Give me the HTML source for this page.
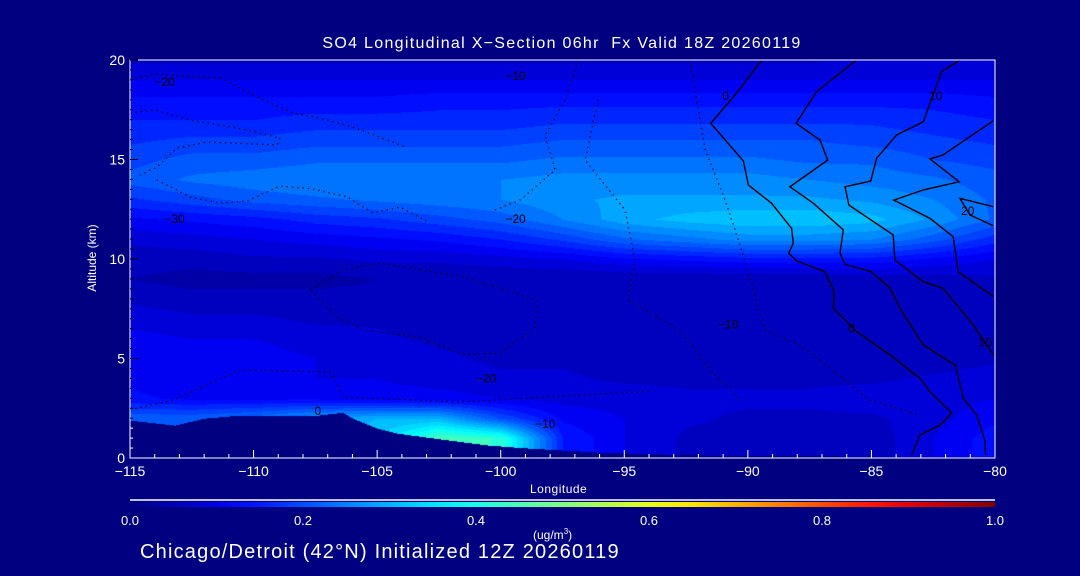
<!DOCTYPE html>
<html><head><meta charset="utf-8">
<style>
html,body{margin:0;padding:0;background:#000080;}
#root{position:relative;width:1080px;height:576px;background:#000080;overflow:hidden;font-family:"Liberation Sans",sans-serif;color:#fff;}
.t{position:absolute;white-space:nowrap;color:#fff;}
canvas{position:absolute;left:130px;top:60px;}
svg{position:absolute;left:0;top:0;}
</style></head>
<body>
<div id="root">
<div class="t" style="left:0;width:1124px;text-align:center;top:35px;font-size:16px;letter-spacing:1.3px;">SO4 Longitudinal X&#8722;Section 06hr&nbsp; Fx Valid 18Z 20260119</div>
<canvas id="field" width="865" height="398"></canvas>
<svg id="ov" width="1080" height="576"></svg>
<div class="t" style="left:92px;top:258px;font-size:12px;transform:translate(-50%,-50%) rotate(-90deg);">Altitude (km)</div>
<div class="t" style="left:530px;top:482px;font-size:12px;letter-spacing:0.5px;">Longitude</div>
<div class="t" style="left:533px;top:527px;font-size:12px;">(ug/m<sup style="font-size:8px">3</sup>)</div>
<div class="t" style="left:140px;top:541px;font-size:20px;letter-spacing:1.2px;">Chicago/Detroit (42°N) Initialized 12Z 20260119</div>
</div>
<script>
const lons=[-115,-112.5,-110,-107.5,-105,-102.5,-100,-97.5,-95,-92.5,-90,-87.5,-85,-82.5,-80];
const alts=[0,1,2,3,4,5,6,7,8,9,10,11,12,13,14,15,16,17,18,19,20];
const conc=[
[.20,.20,.22,.26,.32,.45,.42,.15,.10,.07,.06,.06,.06,.10,.14],
[.20,.20,.22,.26,.32,.45,.42,.15,.10,.07,.06,.06,.06,.10,.14],
[.22,.22,.24,.28,.30,.30,.20,.12,.10,.08,.07,.07,.07,.09,.12],
[.13,.12,.12,.12,.11,.11,.10,.09,.09,.08,.08,.08,.09,.09,.10],
[.12,.11,.11,.10,.10,.09,.08,.08,.07,.07,.07,.07,.07,.08,.09],
[.12,.11,.11,.10,.09,.08,.07,.07,.06,.06,.06,.06,.06,.06,.07],
[.11,.10,.10,.09,.08,.07,.07,.06,.06,.06,.06,.06,.06,.06,.07],
[.09,.08,.08,.07,.07,.06,.06,.06,.06,.06,.06,.06,.06,.06,.07],
[.07,.06,.06,.06,.06,.06,.06,.06,.06,.06,.06,.06,.06,.06,.07],
[.05,.04,.04,.04,.05,.05,.05,.05,.05,.05,.05,.05,.06,.06,.07],
[.06,.06,.07,.07,.08,.08,.09,.10,.12,.13,.14,.14,.14,.12,.10],
[.08,.09,.10,.11,.12,.13,.15,.18,.22,.24,.26,.26,.25,.21,.16],
[.12,.13,.14,.16,.17,.19,.21,.25,.29,.31,.32,.32,.31,.27,.22],
[.17,.19,.21,.22,.23,.24,.25,.27,.28,.28,.28,.28,.27,.25,.22],
[.21,.23,.24,.25,.25,.25,.25,.26,.26,.26,.26,.25,.24,.23,.21],
[.19,.21,.21,.22,.22,.22,.22,.23,.23,.23,.23,.22,.22,.20,.19],
[.17,.18,.18,.19,.19,.19,.19,.20,.20,.20,.20,.20,.19,.18,.17],
[.15,.15,.15,.16,.16,.16,.16,.17,.17,.17,.17,.17,.17,.16,.15],
[.13,.13,.13,.13,.13,.14,.14,.14,.14,.14,.14,.14,.14,.14,.13],
[.10,.10,.10,.10,.10,.10,.10,.10,.10,.10,.10,.10,.10,.10,.10],
[.07,.07,.07,.07,.07,.07,.07,.07,.07,.07,.07,.07,.08,.08,.08]];
const terrLon=[-115,-113.2,-112,-110.6,-107.4,-106.4,-106,-105,-104.2,-102.1,-100.5,-98.9,-96.1,-92.1,-80];
const terrAlt=[1.9,1.65,2.0,2.15,2.15,2.3,2.0,1.5,1.25,0.9,0.65,0.5,0.3,0.15,0.05];
const xTicks=[-115,-110,-105,-100,-95,-90,-85,-80];
const yTicks=[0,5,10,15,20];
const cbTicks=[0.0,0.2,0.4,0.6,0.8,1.0];
const solid1=[[-89.44,20],[-90.52,18.24],[-91.5,16.82],[-90.18,14.92],[-89.98,13.72],[-89.04,12.8],[-88.23,11.54],[-88.16,10.79],[-88.35,10.29],[-88.02,9.9],[-86.88,9.36],[-86.51,8.36],[-86.54,7.52],[-85.6,6.35],[-84.25,5.18],[-83.03,4.0],[-82.63,3.33],[-81.75,2.25],[-82.22,1.66],[-83.03,1.16],[-83.37,0.15]];
const solid2=[[-85.6,20],[-87.22,18.41],[-88.05,16.82],[-87.08,15.98],[-86.77,14.97],[-88.3,13.63],[-87.35,12.8],[-86.14,11.46],[-86.27,10.29],[-86.07,9.73],[-85.0,9.36],[-84.25,8.53],[-83.84,7.52],[-82.9,5.68],[-81.61,4.67],[-81.28,3.0],[-80.74,2.16],[-80.4,0.82],[-80.38,0.15]];
const solid3=[[-81.42,20],[-82.16,19.41],[-82.9,16.9],[-83.98,16.23],[-84.79,15.06],[-85.03,13.92],[-86.07,13.63],[-85.91,12.71],[-84.12,11.21],[-84.05,9.95],[-82.9,8.86],[-82.1,8.53],[-80.88,6.68],[-80.07,5.18]];
const solid4=[[-80.07,16.95],[-82.1,15.23],[-82.63,15.03],[-81.45,13.88],[-82.9,13.47],[-84.09,12.96],[-82.63,12.04],[-81.69,11.12],[-81.49,9.36],[-80.07,8.11]];
const solid5=[[-80.07,12.63],[-81.42,13.05],[-81.01,12.21],[-80.07,11.67]];
const dot1=[[-115,19.05],[-113.9,19.3],[-112.57,19.15],[-111.36,19.1],[-109.62,18.0],[-108.4,17.34],[-107.19,17.04],[-105.98,16.63],[-104.36,15.88],[-103.87,15.63]];
const dot2=[[-115,17.34],[-113.99,17.49],[-112.57,16.98],[-110.83,16.63],[-109.62,16.28],[-108.93,16.08],[-109.05,15.73],[-111.88,15.88],[-113.1,15.58],[-113.91,14.62],[-114.6,14.22]];
const dot3=[[-113.91,13.97],[-112.57,13.12],[-111.36,12.81],[-110.27,12.91],[-108.93,13.67],[-107.6,13.52],[-106.22,13.12],[-105.17,12.31],[-104.07,12.61],[-102.86,11.81]];
const dot4=[[-107.72,8.44],[-106.38,9.45],[-104.88,9.8],[-101.53,9.1],[-98.53,7.94],[-98.61,6.58],[-100.03,5.28],[-101.53,5.18],[-103.14,6.03],[-105.57,6.43],[-106.62,7.09],[-107.72,8.44]];
const dot5=[[-115,2.41],[-113.26,2.91],[-110.55,4.42],[-106.91,4.32],[-106.38,3.07],[-101.65,2.81],[-98.81,3.02],[-93.84,3.37]];
const dot6=[[-96.87,20],[-97.39,17.99],[-98.21,16.23],[-97.8,14.47],[-99.22,12.96],[-100.23,12.46]];
const dot7=[[-96.06,17.99],[-96.59,14.97],[-94.97,12.46],[-94.57,9.95],[-94.85,7.94],[-92.75,6.43],[-91.53,4.42],[-90.32,2.91]];
const dot8=[[-92.34,20],[-91.73,15.48],[-90.92,12.96],[-90.12,9.95],[-89.31,6.43],[-87.89,5.68],[-85.06,2.91],[-83.03,2.16]];
const lblText=["−20","−30","−20","−20","−10","0","0","0","10","10","20","−10","−10"];
const lblLon=[-113.6,-113.2,-99.4,-100.6,-98.2,-107.4,-90.9,-85.8,-82.4,-80.4,-81.1,-90.8,-99.4];
const lblAlt=[18.9,12.0,12.0,4.0,1.7,2.35,18.2,6.5,18.2,5.8,12.4,6.7,19.2];

const X0=130,X1=995,Y0=458,Y1=60;
const xs=v=>X0+(v-(-115))/(35)*(X1-X0);
const ys=v=>Y0-(v/20)*(Y0-Y1);
const lonOf=px=>-115+px/(X1-X0)*35;
const altOf=py=>(Y0-py)/(Y0-Y1)*20;
function jet(v){const c=x=>Math.max(0,Math.min(1,x));return [c(1.5-Math.abs(4*v-3))*255,c(1.5-Math.abs(4*v-2))*255,c(1.5-Math.abs(4*v-1))*255];}
function terrain(lon){for(let i=0;i<terrLon.length-1;i++){if(lon<=terrLon[i+1]){const f=(lon-terrLon[i])/(terrLon[i+1]-terrLon[i]);return terrAlt[i]+f*(terrAlt[i+1]-terrAlt[i]);}}return terrAlt[terrAlt.length-1];}
function field(lon,alt){
  let i=0;while(i<lons.length-2&&lon>lons[i+1])i++;
  let j=0;while(j<alts.length-2&&alt>alts[j+1])j++;
  const fx=Math.max(0,Math.min(1,(lon-lons[i])/(lons[i+1]-lons[i])));
  const fy=Math.max(0,Math.min(1,(alt-alts[j])/(alts[j+1]-alts[j])));
  const a=conc[j][i],b=conc[j][i+1],c=conc[j+1][i],d=conc[j+1][i+1];
  return (a*(1-fx)+b*fx)*(1-fy)+(c*(1-fx)+d*fx)*fy;
}
const cv=document.getElementById('field');const ctx=cv.getContext('2d');
const W=cv.width,H=cv.height;const img=ctx.createImageData(W,H);
for(let py=0;py<H;py++){const alt=altOf(Y1+py);for(let px=0;px<W;px++){const lon=lonOf(px);let col;
  if(alt<terrain(lon)){col=[0,0,128];}else{let v=field(lon,alt);v=Math.floor(v/0.025)*0.025+0.0125;col=jet(v);}
  const k=(py*W+px)*4;img.data[k]=col[0];img.data[k+1]=col[1];img.data[k+2]=col[2];img.data[k+3]=255;}}
ctx.putImageData(img,0,0);

const NS='http://www.w3.org/2000/svg';const svg=document.getElementById('ov');
function mk(tag,attrs){const e=document.createElementNS(NS,tag);for(const k in attrs)e.setAttribute(k,attrs[k]);svg.appendChild(e);return e;}
function line(pts,dash,name){const e=mk('polyline',{points:pts.map(p=>xs(p[0]).toFixed(1)+','+ys(p[1]).toFixed(1)).join(' '),fill:'none',stroke:'#000','stroke-width':dash?1.3:1.4,'stroke-dasharray':dash?'1.3 4':'none'});
  
  }
[solid1,solid2,solid3,solid4,solid5].forEach((s,i)=>line(s,false,'solid-contour-'+(i+1)));
[dot1,dot2,dot3,dot4,dot5,dot6,dot7,dot8].forEach((s,i)=>line(s,true,'dotted-contour-'+(i+1)));
lblText.forEach((t,i)=>{const e=mk('text',{x:xs(lblLon[i]),y:ys(lblAlt[i])+4,'font-size':12,'font-family':'Liberation Sans, sans-serif',fill:'#000','text-anchor':'middle'});e.textContent=t;
  
  });
const fr=mk('rect',{x:X0,y:Y1,width:X1-X0,height:Y0-Y1,fill:'none',stroke:'#fff','stroke-width':1});


for(let v=-115;v<=-80;v++){const maj=xTicks.includes(v);const t=mk('line',{x1:xs(v),x2:xs(v),y1:Y0,y2:Y0-(maj?8:4),stroke:'#fff','stroke-width':1});
  
  }
xTicks.forEach(v=>{const e=mk('text',{x:xs(v),y:Y0+18,'font-size':14,'font-family':'Liberation Sans, sans-serif',fill:'#fff','text-anchor':'middle'});e.textContent=(v<0?'\u2212'+(-v):v);
  
  });
for(let v=0;v<=20;v+=0.5){const maj=yTicks.includes(v);const t=mk('line',{x1:X0,x2:X0+(maj?8:3),y1:ys(v),y2:ys(v),stroke:v<2?'#fff':'#000','stroke-width':1});
  
  }
yTicks.forEach(v=>{const e=mk('text',{x:X0-5,y:ys(v)+5,'font-size':14,'font-family':'Liberation Sans, sans-serif',fill:'#fff','text-anchor':'end'});e.textContent=v;
  
  });
const defs=mk('defs',{});const g=document.createElementNS(NS,'linearGradient');g.setAttribute('id','jetg');defs.appendChild(g);
for(let s=0;s<=20;s++){const v=s/20;const c=jet(v);const st=document.createElementNS(NS,'stop');st.setAttribute('offset',v);st.setAttribute('stop-color','rgb('+c.map(Math.round).join(',')+')');g.appendChild(st);}
const cbl=mk('line',{x1:X0,x2:X1,y1:500,y2:500,stroke:'#fff','stroke-width':1.5});


const cb=mk('rect',{x:X0,y:502,width:X1-X0,height:5,fill:'url(#jetg)'});


cbTicks.forEach(v=>{const e=mk('text',{x:X0+v*(X1-X0),y:525,'font-size':13,'font-family':'Liberation Sans, sans-serif',fill:'#fff','text-anchor':'middle'});e.textContent=v.toFixed(1);
  
  });
</script>
</body></html>
